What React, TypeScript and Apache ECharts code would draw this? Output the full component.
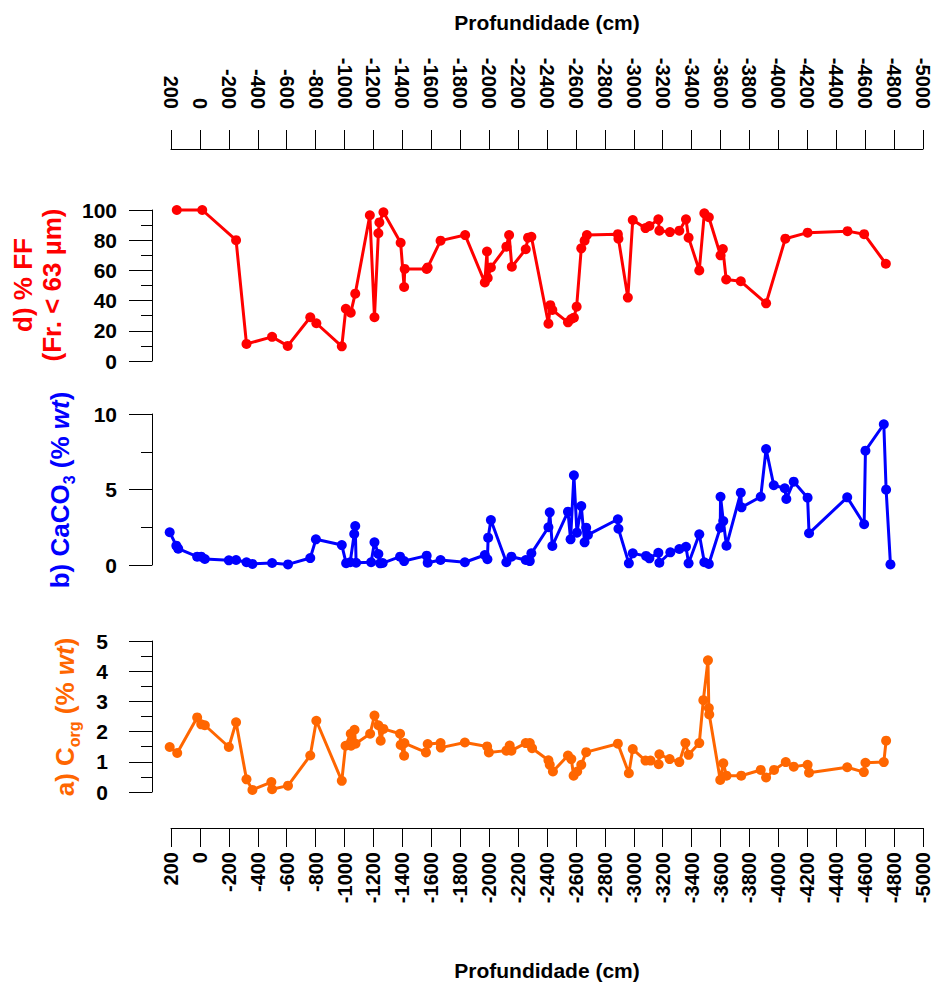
import React, { useEffect, useRef } from "react";
import * as echarts from "echarts";

// Fine fraction (% < 63 µm) by depth
const ffDepth = [
  160, -16, -250, -322, -499, -607, -763, -805, -981, -1009, -1043, -1074, -1175, -1207,
  -1234, -1241, -1269, -1388, -1412, -1416, -1568, -1575, -1664, -1834, -1970, -1985,
  -1990, -2012, -2119, -2138, -2157, -2253, -2269, -2292, -2410, -2423, -2437, -2545,
  -2568, -2586, -2605, -2637, -2660, -2676, -2890, -2894, -2959, -2993, -3081, -3108,
  -3170, -3177, -3250, -3315, -3361, -3379, -3453, -3488, -3519, -3600, -3616, -3639,
  -3740, -3915, -4048, -4202, -4478, -4593, -4743,
];
const ffValue = [
  100, 100, 80, 11.3, 16, 10, 29, 25, 9.7, 34.6, 32, 44.6, 96.5, 29,
  84.6, 91.8, 98.5, 78.3, 49, 61, 61, 62, 79.7, 83.4, 52, 72.5,
  55, 62, 75.7, 83.4, 62.4, 74, 81.7, 82.3, 24.7, 37, 33.8, 25.6,
  27.8, 28.7, 36, 74.6, 79.7, 83.4, 84, 81, 42, 93.4, 88, 89.4,
  93.8, 86.3, 85.4, 86.3, 93.8, 81.7, 60, 97.8, 95.2, 70, 74.2, 54,
  52.8, 38.2, 81, 85, 86, 84, 64.4,
];

// CaCO3 (% wt) by depth
const caco3Depth = [
  209, 163, 150, 19, -9, -34, -200, -250, -322, -363, -499, -609, -763, -802, -981,
  -1011, -1039, -1067, -1074, -1080, -1184, -1207, -1234, -1246, -1264, -1384, -1412,
  -1568, -1575, -1664, -1832, -1970, -1988, -1993, -2012, -2119, -2154, -2253, -2281,
  -2292, -2410, -2419, -2437, -2545, -2563, -2586, -2607, -2637, -2660, -2671, -2683,
  -2890, -2894, -2966, -2993, -3085, -3108, -3170, -3177, -3253, -3315, -3361, -3379,
  -3453, -3488, -3519, -3598, -3600, -3619, -3641, -3740, -3745, -3878, -3915, -3968,
  -4044, -4055, -4106, -4202, -4212, -4476, -4593, -4602, -4729, -4745, -4775,
];
const caco3Value = [
  2.17, 1.28, 1.08, 0.55, 0.55, 0.4, 0.31, 0.33, 0.18, 0.07, 0.13, 0.04, 0.46, 1.7, 1.32,
  0.12, 0.18, 2.05, 2.58, 0.15, 0.18, 1.5, 0.73, 0.11, 0.13, 0.55, 0.26,
  0.62, 0.15, 0.33, 0.18, 0.66, 0.38, 1.81, 2.98, 0.18, 0.55, 0.33, 0.26,
  0.77, 2.5, 3.49, 1.26, 3.53, 1.7, 5.94, 2.14, 3.9, 1.5, 2.47, 1.99,
  3.03, 2.4, 0.11, 0.77, 0.6, 0.44, 0.81, 0.15, 0.84, 1.06, 1.21, 0.11,
  2.03, 0.18, 0.07, 2.47, 4.52, 2.91, 1.28, 4.79, 3.82, 4.52, 7.68, 5.28,
  5.08, 4.37, 5.52, 4.46, 2.1, 4.48, 2.7, 7.57, 9.32, 4.99, 0.04,
];

// Organic carbon (% wt) by depth
const corgDepth = [
  209, 157, 19, -9, -34, -200, -250, -322, -363, -494, -499, -609, -763, -805, -981,
  -1007, -1043, -1045, -1069, -1076, -1177, -1207, -1234, -1250, -1269, -1384, -1388,
  -1412, -1414, -1563, -1575, -1664, -1666, -1832, -1986, -1998, -2119, -2142, -2154,
  -2253, -2281, -2297, -2410, -2419, -2441, -2545, -2568, -2584, -2609, -2637, -2671,
  -2890, -2966, -2993, -3081, -3116, -3172, -3177, -3248, -3315, -3357, -3379, -3453,
  -3481, -3513, -3519, -3522, -3598, -3619, -3641, -3743, -3878, -3915, -3970, -4051,
  -4106, -4202, -4212, -4476, -4591, -4602, -4729, -4745,
];
const corgValue = [
  1.49, 1.29, 2.47, 2.24, 2.21, 1.49, 2.31, 0.42, 0.07, 0.33, 0.09, 0.21, 1.21, 2.36, 0.37,
  1.53, 1.93, 1.53, 2.06, 1.6, 1.93, 2.53, 2.21, 1.7, 2.09, 1.93, 1.56,
  1.2, 1.62, 1.31, 1.59, 1.62, 1.47, 1.64, 1.51, 1.31, 1.37, 1.54, 1.37,
  1.62, 1.62, 1.45, 1.05, 0.9, 0.68, 1.21, 1.09, 0.54, 0.68, 0.9, 1.32,
  1.6, 0.62, 1.42, 1.04, 1.04, 0.92, 1.25, 1.09, 0.99, 1.62, 1.23, 1.62,
  3.04, 4.36, 2.78, 2.57, 0.4, 0.95, 0.54, 0.54, 0.73, 0.48, 0.73, 0.99,
  0.84, 0.9, 0.64, 0.82, 0.66, 0.97, 0.99, 1.7,
];

const depthTitle = "Profundidade (cm)";

const FONT = "'Liberation Sans', Arial, Helvetica, sans-serif";
const RED = "#ff0000";
const BLUE = "#0000ff";
const ORANGE = "#ff6600";

const GRID_LEFT = 171;
const GRID_RIGHT = 15;
const PANEL_H = 151;

export default function App() {
  const ref = useRef<HTMLDivElement>(null);

  useEffect(() => {
    if (!ref.current) return;
    const chart = echarts.init(ref.current, undefined, { renderer: "svg" });

    const xBase: any = {
      type: "value",
      inverse: true,
      min: -5000,
      max: 200,
      interval: 200,
      splitLine: { show: false },
      axisLine: { show: true, onZero: false, lineStyle: { color: "#000", width: 1 } },
      axisTick: { show: true, length: 19, lineStyle: { color: "#000", width: 1 } },
      axisLabel: {
        rotate: 90,
        fontSize: 20,
        fontWeight: "bold",
        color: "#000",
        fontFamily: FONT,
        margin: 40,
        showMinLabel: true,
        showMaxLabel: true,
        formatter: (v: number) => String(v),
      },
    };

    const yBase: any = {
      type: "value",
      offset: 19,
      axisLine: { show: true, onZero: false, lineStyle: { color: "#000", width: 1 } },
      axisTick: { show: true, length: 23, lineStyle: { color: "#000", width: 1 } },
      minorTick: { show: true, splitNumber: 2, length: 11, lineStyle: { color: "#000", width: 1 } },
      splitLine: { show: false },
      minorSplitLine: { show: false },
      axisLabel: {
        fontSize: 21,
        fontWeight: "bold",
        color: "#000",
        fontFamily: FONT,
        margin: 35,
        formatter: (v: number) => String(v),
      },
    };

    const lineSeries = (idx: number, xs: number[], ys: number[], color: string) => ({
      type: "line",
      xAxisIndex: idx,
      yAxisIndex: idx,
      data: xs.map((d, i) => [d, ys[i]]),
      symbol: "circle",
      symbolSize: 10,
      showAllSymbol: true,
      clip: false,
      lineStyle: { width: 3, color },
      itemStyle: { color },
    });

    const rich = (color: string) => ({
      m: { fontSize: 26, fontWeight: "bold", fontFamily: FONT, fill: color, lineHeight: 34, verticalAlign: "middle" },
      i: { fontSize: 26, fontWeight: "bold", fontStyle: "italic", fontFamily: FONT, fill: color, lineHeight: 34, verticalAlign: "middle" },
      s: { fontSize: 16, fontWeight: "bold", fontFamily: FONT, fill: color, lineHeight: 16, verticalAlign: "bottom" },
    });

    chart.setOption({
      animation: false,
      backgroundColor: "#fff",
      grid: [
        { left: GRID_LEFT, right: GRID_RIGHT, top: 210, height: PANEL_H },
        { left: GRID_LEFT, right: GRID_RIGHT, top: 414, height: PANEL_H },
        { left: GRID_LEFT, right: GRID_RIGHT, top: 641, height: PANEL_H },
      ],
      xAxis: [
        { ...xBase, gridIndex: 0, position: "top", offset: 61 },
        { ...xBase, gridIndex: 1, show: false },
        { ...xBase, gridIndex: 2, position: "bottom", offset: 36, axisLabel: { ...xBase.axisLabel, margin: 24 } },
      ],
      yAxis: [
        { ...yBase, gridIndex: 0, min: 0, max: 100, interval: 20 },
        { ...yBase, gridIndex: 1, min: 0, max: 10, interval: 5 },
        { ...yBase, gridIndex: 2, min: 0, max: 5, interval: 1, axisLabel: { ...yBase.axisLabel, margin: 44 } },
      ],
      series: [
        lineSeries(0, ffDepth, ffValue, RED),
        lineSeries(1, caco3Depth, caco3Value, BLUE),
        lineSeries(2, corgDepth, corgValue, ORANGE),
      ],
      graphic: [
        {
          type: "text",
          x: 547,
          y: 22,
          style: { text: depthTitle, fill: "#000", font: `bold 21px ${FONT}`, align: "center", verticalAlign: "middle" },
        },
        {
          type: "text",
          x: 547,
          y: 970,
          style: { text: depthTitle, fill: "#000", font: `bold 21px ${FONT}`, align: "center", verticalAlign: "middle" },
        },
        {
          type: "text",
          x: 37,
          y: 285,
          rotation: Math.PI / 2,
          style: {
            text: "d) % FF\n(Fr. < 63 µm)",
            fill: RED,
            font: `bold 26px ${FONT}`,
            lineHeight: 29,
            align: "center",
            verticalAlign: "middle",
          },
        },
        {
          type: "text",
          x: 60,
          y: 490,
          rotation: Math.PI / 2,
          style: {
            text: "{m|b) CaCO}{s|3}{m| (% }{i|wt}{m|)}",
            rich: rich(BLUE),
            fill: BLUE,
            align: "center",
            verticalAlign: "middle",
          },
        },
        {
          type: "text",
          x: 65,
          y: 717,
          rotation: Math.PI / 2,
          style: {
            text: "{m|a) C}{s|org}{m| (% }{i|wt}{m|)}",
            rich: rich(ORANGE),
            fill: ORANGE,
            align: "center",
            verticalAlign: "middle",
          },
        },
      ],
    });

    return () => chart.dispose();
  }, []);

  return (
    <div
      ref={ref}
      style={{ position: "fixed", left: 0, top: 0, width: 938, height: 982, background: "#fff" }}
    />
  );
}
